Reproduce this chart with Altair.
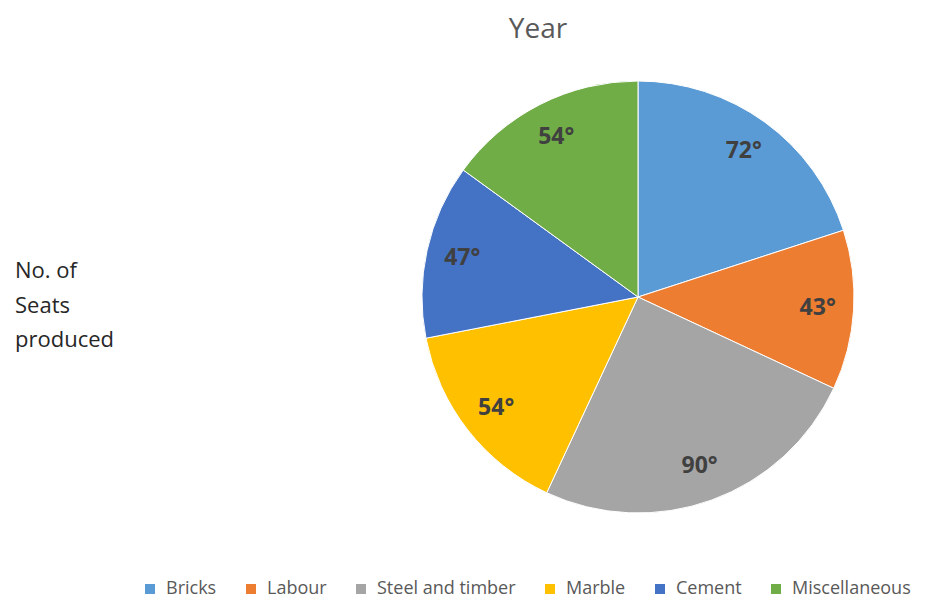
import altair as alt
import pandas as pd

categories = ["Bricks", "Labour", "Steel and timber", "Marble", "Cement", "Miscellaneous"]
degrees = [72, 43, 90, 54, 47, 54]
labels = ["72°", "43°", "90°", "54°", "47°", "54°"]
colors = ["#5B9BD5", "#ED7D31", "#A5A5A5", "#FFC000", "#4472C4", "#70AD47"]
side_lines = ["No. of", "Seats", "produced"]

df = pd.DataFrame({
    "category": categories,
    "value": degrees,
    "label": labels,
    "order": list(range(len(categories))),
})

cx, cy = 630, 289
FONT = "Open Sans"

base = alt.Chart(df).encode(
    theta=alt.Theta("value:Q", stack=True),
    order=alt.Order("order:Q"),
    x=alt.value(cx),
    y=alt.value(cy),
)

pie = base.mark_arc(radius=216, stroke="white", strokeWidth=1).encode(
    color=alt.Color(
        "category:N",
        scale=alt.Scale(domain=categories, range=colors),
        sort=categories,
        legend=alt.Legend(
            title=None,
            orient="none",
            direction="horizontal",
            legendX=133,
            legendY=572,
            symbolType="square",
            symbolSize=100,
            symbolStrokeWidth=0,
            labelFont=FONT,
            labelFontSize=18,
            labelColor="#595959",
            columnPadding=25,
            labelOffset=7,
            labelLimit=300,
        ),
    )
)

text = base.mark_text(
    radius=180, font=FONT, fontSize=23, fontWeight="bold", color="#404040"
).encode(text="label:N")

title_df = pd.DataFrame({"t": ["Year"]})
title = alt.Chart(title_df).mark_text(
    font=FONT, fontSize=28, color="#595959", baseline="middle"
).encode(text="t:N", x=alt.value(530), y=alt.value(22))

side_df = pd.DataFrame({"t": side_lines, "i": list(range(len(side_lines)))})
side = alt.Chart(side_df).mark_text(
    font=FONT, fontSize=22, color="#262626", align="left", baseline="middle"
).encode(
    text="t:N",
    x=alt.value(7),
    y=alt.Y("i:Q", axis=None, scale=alt.Scale(domain=[0, 2], range=[263, 332])),
)

chart = alt.layer(pie, text, title, side).properties(
    width=931, height=593, autosize=alt.AutoSizeParams(type="none"), padding=0
).configure_view(stroke=None)

chart.save("out.html", embed_options={"renderer": "svg", "actions": False})
